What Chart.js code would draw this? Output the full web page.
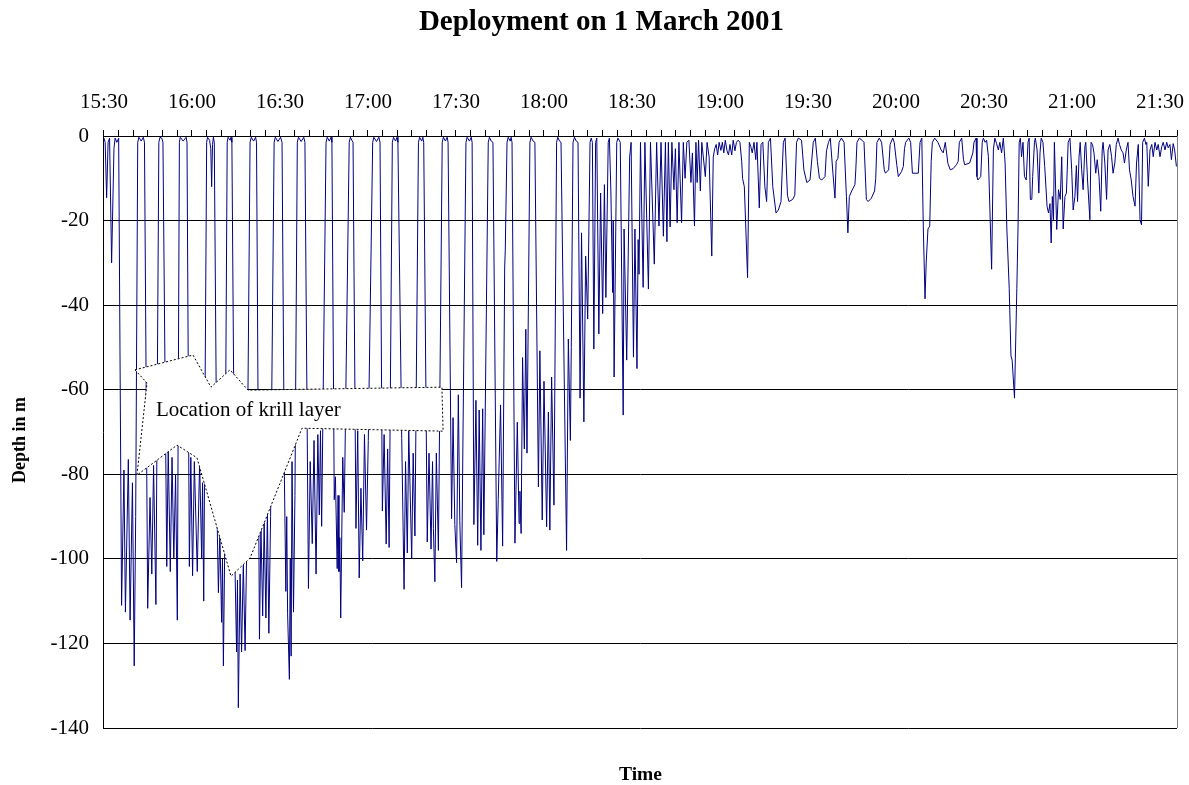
<!DOCTYPE html>
<html><head><meta charset="utf-8">
<script src="https://cdn.jsdelivr.net/npm/chart.js@4"></script>
<style>html,body{margin:0;padding:0;background:#fff;}#wrap{width:1189px;height:785px;position:relative;}</style>
</head><body><div id="wrap"><canvas id="c"></canvas></div>
<script>
// ---- data (minutes after 15:30, depth in m) ----
const timeTickLabels = ['15:30','16:00','16:30','17:00','17:30','18:00','18:30','19:00','19:30','20:00','20:30','21:00','21:30'];
const depthTicks = [0,-20,-40,-60,-80,-100,-120,-140];
const deepDives = [
[0.0,-0.5],[0.4,-1.5],[0.9,-14.6],[1.4,-1.5],[1.9,-0.5],[2.6,-30],[3.4,-3],[3.8,-0.5],[4.4,-1.5],[5.0,-0.5],
[6.0,-111],[6.8,-79],[7.3,-112.6],[8.3,-76.5],[8.9,-114.5],[9.7,-82],[10.3,-125.3],[10.8,-90],[11.5,-1.5],[11.9,-0.3],[12.7,-1.2],[13.4,-0.3],[13.8,-1.5],
[14.9,-111.7],[15.7,-85.5],[16.3,-103.6],[16.9,-77.9],[17.7,-110.8],[18.7,-1.5],[19.1,-0.3],[19.7,-0.5],[20.1,-1.5],
[21.4,-101.8],[21.9,-74],[22.6,-103],[23.2,-76],[23.8,-100],[24.4,-80],[25.0,-114.5],[25.7,-1.5],[26.0,-0.3],[27.0,-1.2],[28.0,-0.3],[28.3,-1.5],
[29.1,-101.8],[29.6,-76],[30.2,-104],[30.8,-77],[31.8,-103],[32.6,-77],[33.3,-100],[33.6,-82],[34.0,-110],[35.0,-1.5],
[35.3,-0.3],[36.0,-1],[36.4,-3],[36.7,-12],[37.0,-2],[37.3,-0.3],[37.6,-1.5],
[38.6,-92],[39.0,-108],[39.5,-93.7],[40.1,-115],[40.4,-100],[40.7,-125.3],[41.2,-95],[42.0,-1.5],[42.3,-0.3],[43.0,-1],[43.3,-0.3],[43.6,-1.5],
[44.7,-103.6],[45.2,-122],[45.5,-105],[45.8,-135.2],[46.4,-103.6],[46.9,-122],[47.5,-101],[48.1,-121.7],[48.6,-100],[49.8,-1.5],[50.2,-0.3],[51.0,-1.2],[51.7,-0.3],[52.0,-1.5],
[53.0,-119],[53.5,-92],[54.1,-113.5],[54.6,-91.4],[55.2,-114],[55.7,-88.7],[56.2,-117.6],[56.8,-90],[58.0,-1.5],[58.4,-0.3],[59.3,-1.3],[60.2,-0.3],[60.7,-1.5],
[61.5,-80.6],[62.0,-107.7],[62.3,-90],[62.6,-113],[63.2,-128.5],[63.5,-100],[63.8,-123],[64.1,-77],[64.6,-112.6],[65.1,-85],[65.9,-1.5],[66.3,-0.3],[67.2,-1.3],[68.1,-0.3],[68.5,-1.5],
[69.7,-107],[70.3,-77],[71.0,-96.4],[71.6,-72],[72.3,-103.6],[72.9,-70.6],[73.4,-89.6],[73.8,-69.7],[74.2,-92.3],[75.7,-1.5],[76.1,-0.3],[76.8,-1.2],[77.4,-0.3],[77.7,-1.5],
[78.5,-86],[78.9,-80.6],[79.5,-102.3],[79.8,-85],[80.1,-103],[80.4,-95],[80.7,-114],[81.4,-76],[81.9,-89],[83.6,-1.5],[84.0,-0.3],[84.5,-1],[84.9,-1.5],
[85.9,-92.8],[86.5,-69.7],[87.0,-104.5],[87.6,-83.3],[88.2,-100.5],[88.8,-70.6],[89.5,-93.2],[90.1,-72],[91.6,-1.5],[92.0,-0.3],[92.9,-1.3],[93.7,-0.3],[94.1,-1.5],
[94.9,-88.7],[95.5,-70.6],[96.2,-96.5],[96.7,-74],[97.2,-97.3],[98.3,-1.5],[98.7,-0.3],[99.4,-1.2],[99.9,-0.3],[100.2,-1.5],
[101.5,-71.5],[102.3,-107.2],[102.8,-77],[103.4,-98.6],[103.9,-69.7],[104.9,-100],[105.4,-75],[106.0,-94.6],[107.2,-1.5],[107.6,-0.3],[108.3,-1.2],[108.7,-0.3],[109.0,-1.5],
[110.2,-96],[110.8,-75],[111.5,-97.7],[112.0,-77],[112.3,-92.8],[112.8,-105.4],[113.3,-75],[114.0,-98],[115.3,-1.5],[115.7,-0.3],[116.4,-1.2],[117.0,-0.3],[117.3,-1.5],
[118.5,-90.5],[119.0,-66.6],[119.6,-91.9],[120.2,-100.9],[120.8,-61.2],[121.3,-91],[121.9,-106.8],[122.4,-70],[123.4,-1.5],[123.8,-0.3],[124.6,-1.2],[125.2,-0.3],[125.5,-1.5],
[126.1,-91.9],[126.8,-62.5],[127.4,-96.8],[127.9,-64.8],[128.5,-98],[129.1,-64.5],[129.5,-94.3],[131.0,-1.5],[131.4,-0.3],[132.0,-1.2],[132.6,-1.5],
[133.9,-100.6],[134.4,-86],[135.2,-63.6],[135.9,-97],[136.6,-31],[136.8,-27],[137.4,-1.5],[137.8,-0.3],[138.5,-1.2],[138.8,-0.3],[139.1,-1.5],
[140.1,-96.3],[140.9,-67.7],[141.5,-91.6],[141.8,-84],[142.2,-94],[142.7,-52.4],[143.3,-74],[143.8,-45.7],[144.2,-75],[145.2,-1.5],[145.6,-0.3],[146.3,-1.2],[146.9,-1.5],
[148.1,-83],[148.6,-50.8],[149.4,-90.8],[150.0,-58],[150.9,-92.4],[151.5,-65.3],[152.0,-93.2],[152.6,-57],[153.4,-87.3],[154.3,-1.5],[154.7,-0.3],[155.3,-1.2],[155.8,-1.5],
[157.7,-98],[158.3,-48],[159.0,-72],[159.3,-50],[159.9,-1.5],[160.4,-0.3],[161.0,-1.2],[161.6,-1.5]
];
const shallowDives = [
[162.3,-62],[162.8,-22.9],[163.6,-67.6],[164.2,-28.4],[164.9,-43.3],[165.7,-1.5],[166.1,-0.5],[166.5,-1.5],[167.0,-50.4],[167.6,-1.5],[168.0,-0.5],[168.7,-46.8],[169.3,-13.5],[170.0,-42],[170.6,-11.5],[171.1,-38.2],[171.9,-1.5],[172.3,-0.5],[172.8,-13],[173.4,-37],[173.6,-20],[173.9,-57],[174.8,-1.5],[175.2,-0.5],[176.0,-1.5],[177.0,-66],[177.3,-22],[178.2,-53],[179.2,-5],[179.7,-1.5],[180.5,-52.3],[181.0,-22],[181.7,-55],[182.1,-24.5],[182.4,-32.7],[182.9,-1.5],[183.8,-35.8],[184.4,-1.5],[185.6,-36.2],[186.3,-1.5],[187.6,-30.3],[188.4,-1.5],[189.2,-21.3],[189.9,-1.5],[190.7,-23.7],[191.4,-1.5],[191.9,-25],[192.4,-1.5],[193.0,-21.5],[193.6,-1.5],[194.3,-12.7],[194.8,-3],[195.4,-20.5],[196.0,-1.5],[196.9,-20.5],[197.5,-1.5],[198.1,-10],[198.7,-1.5],[199.4,-1],[200.1,-11],[200.6,-4],[201.3,-21.3],[201.8,-1.5],[202.2,-11],[202.7,-1],[203.3,-13],[203.8,-1.5],[205.0,-9.6],[205.6,-1.5],[206.3,-5],[207.2,-28.4],[207.7,-5],[208.2,-3],[208.7,-2],[209.2,-4.5],[209.7,-1.5],[210.3,-3.4],[210.8,-1.5],[211.3,-4],[211.8,-1],[212.4,-3.5],[212.9,-4.5],[213.4,-2],[214.0,-4.5],[214.5,-1],[215.1,-3.5],[215.6,-1.5],[216.2,-1],[216.8,-1.5],[217.4,-6],[217.7,-10],[218.3,-12],[219.4,-33.5],[220.0,-1.5],[220.5,-2.5],[221.0,-4],[221.6,-1.5],[222.2,-5.6],[222.6,-1.5],[223.4,-17],[224.0,-2],[224.6,-1.5],[225.3,-12],[225.9,-15.5],[226.5,-1.5],[227.2,-0.5],[228.0,-12],[229.1,-18.2],[229.9,-17.5],[230.8,-15.5],[231.6,-1.5],[232.2,-0.5],[233.0,-14],[233.5,-15.5],[234.8,-15],[235.5,-14],[236.1,-1.5],[236.7,-0.5],[237.8,-1],[238.6,-8],[239.6,-11],[240.7,-10.4],[241.8,-1.5],[242.5,-0.5],[243.2,-6],[243.9,-10],[244.7,-10.4],[245.8,-9.6],[246.3,-3.5],[247.0,-1.5],[247.6,-0.5],[248.5,-8.8],[249.2,-14.7],[249.6,-6],[250.2,-5.3],[250.6,-1.5],[251.4,-0.5],[252.3,-1.5],[253.1,-14.3],[253.6,-22.9],[254.1,-14.3],[254.9,-13],[256.0,-11.5],[256.3,-8],[256.7,-1.5],[257.5,-0.5],[258.4,-1],[259.1,-1.5],[259.9,-15],[260.5,-15.5],[261.6,-14.7],[262.7,-13],[263.1,-10],[263.5,-1.5],[264.3,-0.5],[265.1,-1.5],[266.0,-8],[266.4,-8.8],[267.5,-8],[268.0,-2],[268.3,-1.5],[268.9,-0.5],[269.4,-1.5],[270.3,-7],[270.8,-9.6],[271.9,-8.4],[272.5,-7.2],[272.9,-3],[273.3,-1.5],[274.4,-0.5],[275.0,-1.5],[275.6,-8.8],[276.5,-8.8],[277.6,-8.8],[278.2,-1.5],[278.8,-0.5],[279.3,-21.3],[279.9,-38.5],[280.3,-30],[280.9,-22],[281.5,-21.3],[282.0,-6],[282.4,-1.5],[283.2,-0.5],[284.3,-1.5],[285.4,-3.3],[286.1,-4],[286.8,-1.5],[287.7,-6.5],[288.5,-8],[289.5,-7.7],[290.6,-6.8],[291.2,-6],[291.6,-1.5],[292.4,-0.5],[293.0,-5.5],[293.4,-6.8],[295.1,-6.4],[296.2,-4],[296.6,-1.5],[297.3,-0.5],[297.6,-9.6],[297.9,-10.4],[298.9,-9.6],[299.4,-1.5],[299.8,-0.5],[300.4,-1.5],[300.9,-1],[301.5,-4.9],[302.6,-31.5],[303.2,-3.3],[303.7,-0.5],[304.3,-1.8],[304.9,-3.3],[305.4,-1.5],[306.0,-4],[306.6,-0.5],[307.2,-6.4],[307.8,-22],[308.6,-36],[309.2,-52],[309.6,-53],[310.4,-62],[311.2,-36],[311.6,-22],[312.0,-1.5],[312.4,-0.5],[312.8,-4.9],[313.3,-1.5],[313.8,-9.6],[314.4,-10.4],[315.0,-1.5],[315.4,-0.5],[315.8,-15],[316.3,-15],[316.6,-9.6],[317.2,-1.5],[317.5,-0.5],[318.1,-3.3],[318.7,-13.5],[319.1,-4],[319.5,-0.5],[320.1,-1.5],[320.7,-7.2],[321.5,-16.6],[322.0,-18.2],[322.5,-16],[322.9,-25.3],[323.3,-14.3],[323.7,-19.8],[324.0,-1.5],[324.8,-22.1],[325.4,-12.7],[326.0,-15],[326.5,-4.9],[327.0,-22],[327.6,-14.3],[328.1,-13.5],[328.7,-1.5],[329.3,-0.5],[329.9,-8],[330.4,-17.5],[331.0,-14.3],[331.5,-7],[331.9,-15.5],[332.4,-5],[332.8,-1.5],[333.3,-8],[333.8,-12.7],[334.4,-2.5],[334.7,-1.5],[335.3,-10.4],[336.1,-19.8],[336.5,-1.5],[337.0,-2],[337.5,-4],[338.1,-8.8],[338.6,-5.6],[339.2,-9.5],[339.8,-17.8],[340.3,-3.3],[340.6,-1.5],[341.2,-6.4],[341.8,-15],[342.3,-3.3],[342.9,-2],[343.5,-4.9],[344.0,-8.8],[344.6,-6.4],[345.1,-2],[345.7,-0.5],[346.2,-2],[346.8,-3.3],[347.4,-4],[347.9,-6.4],[348.5,-3.3],[349.1,-1.5],[349.6,-8],[350.2,-10.4],[350.8,-14.3],[351.5,-16.6],[352.0,-6.4],[352.6,-2],[353.2,-19.8],[353.7,-21],[354.1,-1.5],[354.7,-0.5],[355.2,-2],[355.5,-1.5],[356.0,-11.9],[356.6,-3.3],[357.2,-2],[357.7,-4.9],[358.3,-1.5],[358.9,-3.3],[359.4,-2],[360.0,-4.9],[360.6,-2.5],[361.1,-1.5],[361.7,-3.3],[362.3,-1.5],[362.8,-2.8],[363.4,-2],[363.9,-5.6],[364.5,-1.8],[365.0,-3.3],[365.6,-7.2]
];
// callout outline (in data units: minutes, depth)
const calloutOutline = [[10.57,-55.3],[30.34,-51.8],[36.48,-59.4],[42.95,-55.3],[49.09,-60.1],[115.2,-59.4],[115.6,-69.8],[67.5,-69.1],[61.4,-79.7],[49.8,-99.8],[43.3,-104.1],[31.7,-76.1],[24.9,-73.1],[11.25,-80.2],[14.66,-58.4]];
const calloutText = 'Location of krill layer';
const calloutTextAt = [17.7,-66.2];
const chartTitle = 'Deployment on 1 March 2001';
const xAxisTitle = 'Time';
const yAxisTitle = 'Depth in m';

const SERIF = "'Liberation Serif','Times New Roman',serif";
const points = deepDives.concat(shallowDives).map(p => ({x: p[0], y: p[1]}));

const overlay = {
  id: 'overlay',
  afterDatasetsDraw(chart) {
    const {ctx, chartArea, scales: {x, y}} = chart;
    ctx.save();
    ctx.beginPath();
    calloutOutline.forEach((p, i) => {
      const px = x.getPixelForValue(p[0]), py = y.getPixelForValue(p[1]);
      if (i) ctx.lineTo(px, py); else ctx.moveTo(px, py);
    });
    ctx.closePath();
    ctx.fillStyle = '#fff';
    ctx.fill();
    ctx.setLineDash([2, 2]);
    ctx.lineWidth = 1;
    ctx.strokeStyle = '#000';
    ctx.stroke();
    ctx.setLineDash([]);
    ctx.font = '21px ' + SERIF;
    ctx.fillStyle = '#000';
    ctx.textAlign = 'left';
    ctx.textBaseline = 'alphabetic';
    ctx.fillText(calloutText, x.getPixelForValue(calloutTextAt[0]), y.getPixelForValue(calloutTextAt[1]));
    ctx.strokeStyle = '#808080';
    ctx.beginPath();
    ctx.moveTo(Math.round(chartArea.right) + 0.5, chartArea.top);
    ctx.lineTo(Math.round(chartArea.right) + 0.5, chartArea.bottom);
    ctx.stroke();
    ctx.restore();
  },
  afterDraw(chart) {
    const {ctx, chartArea} = chart;
    ctx.save();
    ctx.fillStyle = '#000';
    ctx.textAlign = 'center';
    ctx.textBaseline = 'middle';
    ctx.font = 'bold 29px ' + SERIF;
    ctx.fillText(chartTitle, 601.5, 23);
    ctx.font = 'bold 19.5px ' + SERIF;
    ctx.fillText(xAxisTitle, (chartArea.left + chartArea.right) / 2, 775);
    ctx.translate(20, (chartArea.top + chartArea.bottom) / 2 + 8);
    ctx.rotate(-Math.PI / 2);
    ctx.font = 'bold 18px ' + SERIF;
    ctx.fillText(yAxisTitle, 0, 0);
    ctx.restore();
  }
};

new Chart(document.getElementById('c'), {
  type: 'line',
  data: { datasets: [{
    data: points,
    borderColor: '#000080',
    borderWidth: 1,
    pointRadius: 0,
    tension: 0,
    fill: false
  }]},
  options: {
    responsive: true,
    maintainAspectRatio: false,
    animation: false,
    devicePixelRatio: 1,
    layout: { padding: { left: 35.5, right: 12, top: 74.8, bottom: 57 } },
    plugins: {
      legend: { display: false },
      tooltip: { enabled: false },
      title: { display: false }
    },
    scales: {
      x: {
        type: 'linear',
        position: 'top',
        min: 0,
        max: 365.8,
        afterFit: (scale) => { scale.paddingLeft = 0; scale.paddingRight = 0; },
        border: { display: true, color: '#000', width: 1 },
        grid: { drawOnChartArea: false, drawTicks: true, tickLength: 6, tickColor: '#000' },
        ticks: {
          stepSize: 5,
          autoSkip: false,
          maxRotation: 0,
          padding: 15,
          color: '#000',
          font: { family: SERIF, size: 21 },
          callback: (v) => {
            const k = v / 30;
            return Math.abs(k - Math.round(k)) < 1e-6 ? (timeTickLabels[Math.round(k)] || '') : '';
          }
        }
      },
      y: {
        min: depthTicks[depthTicks.length - 1],
        max: depthTicks[0],
        border: { display: true, color: '#000', width: 1 },
        grid: { color: '#000', lineWidth: 1, drawTicks: false },
        ticks: {
          stepSize: 20,
          padding: 15,
          color: '#000',
          font: { family: SERIF, size: 21 },
          callback: (v) => depthTicks.includes(v) ? String(v) : ''
        },
        title: { display: false }
      }
    }
  },
  plugins: [overlay]
});
</script>
</body></html>
